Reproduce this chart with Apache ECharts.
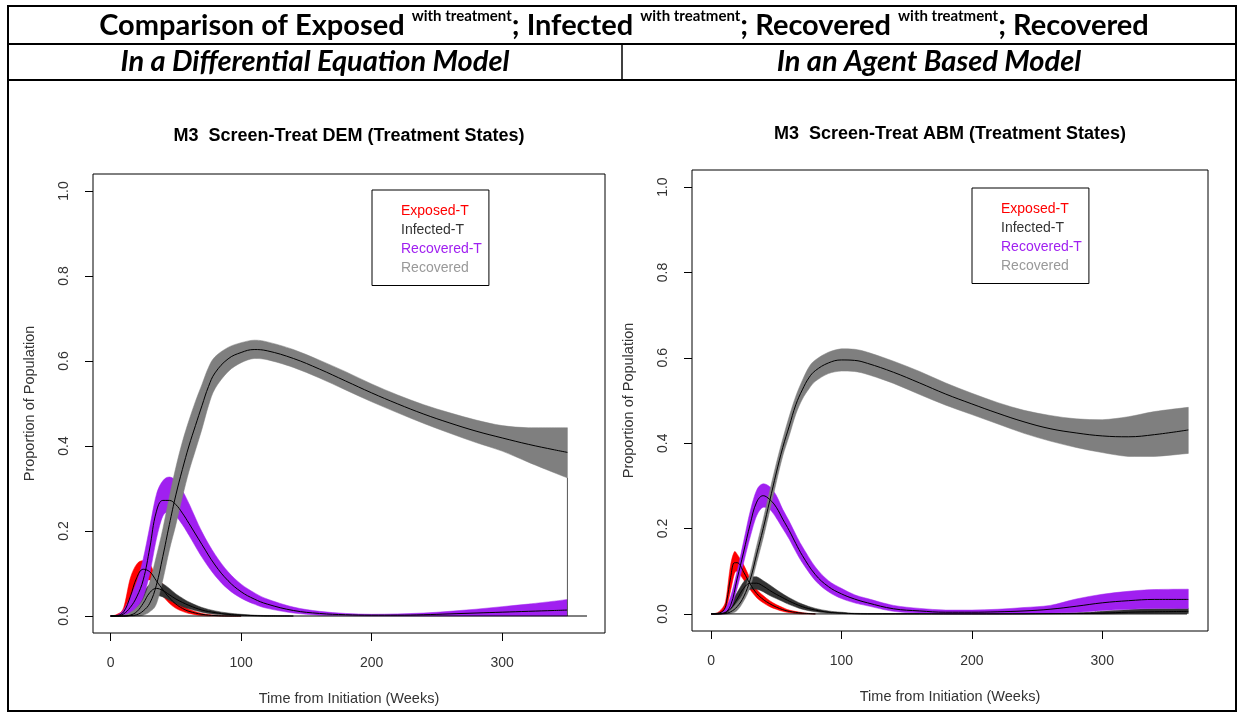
<!DOCTYPE html>
<html>
<head>
<meta charset="utf-8">
<script src="https://cdn.jsdelivr.net/npm/echarts@6/dist/echarts.min.js"></script>
<style>
html,body{margin:0;padding:0;background:#fff;}
#chart{width:1240px;height:713px;}
</style>
</head>
<body>
<div id="chart"></div>
<script>
// ---------- tick labels ----------
const xTicks = [0, 100, 200, 300];
const yTicks = [0, 0.2, 0.4, 0.6, 0.8, 1.0];
const legendNames = ['Exposed-T', 'Infected-T', 'Recovered-T', 'Recovered'];

// ---------- DEM (left) ----------
const demExpT    = [0, 5, 10, 15, 20, 25, 30, 35, 40, 45, 50, 55, 60, 70, 80, 90, 100];
const demExpMean = [0, 0.001, 0.01, 0.045, 0.09, 0.11, 0.104, 0.083, 0.062, 0.043, 0.028, 0.018, 0.011, 0.004, 0.001, 0, 0];
const demExpHi   = [0, 0.004, 0.02, 0.088, 0.122, 0.13, 0.122, 0.093, 0.075, 0.057, 0.04, 0.026, 0.016, 0.006, 0.002, 0, 0];
const demExpLo   = [0, 0, 0.002, 0.015, 0.05, 0.085, 0.085, 0.068, 0.047, 0.03, 0.018, 0.011, 0.006, 0.001, 0, 0, 0];

const demInfT    = [0, 10, 15, 20, 25, 30, 35, 40, 45, 50, 55, 60, 70, 80, 90, 100, 110, 120, 140];
const demInfMean = [0, 0, 0.002, 0.01, 0.03, 0.055, 0.065, 0.06, 0.05, 0.04, 0.032, 0.025, 0.014, 0.008, 0.004, 0.002, 0.001, 0, 0];
const demInfHi   = [0, 0.001, 0.008, 0.025, 0.055, 0.075, 0.082, 0.076, 0.065, 0.052, 0.042, 0.033, 0.02, 0.012, 0.007, 0.004, 0.002, 0.001, 0];
const demInfLo   = [0, 0, 0, 0.002, 0.012, 0.035, 0.048, 0.045, 0.037, 0.029, 0.022, 0.017, 0.009, 0.004, 0.002, 0.001, 0, 0, 0];

const demRecTT    = [0, 5, 10, 15, 20, 25, 30, 35, 40, 45, 50, 55, 60, 70, 80, 90, 100, 110, 120, 140, 160, 180, 200, 220, 240, 260, 280, 300, 320, 340, 350];
const demRecTMean = [0, 0, 0.005, 0.02, 0.045, 0.085, 0.16, 0.245, 0.272, 0.272, 0.262, 0.242, 0.218, 0.168, 0.12, 0.083, 0.057, 0.04, 0.028, 0.013, 0.006, 0.003, 0.002, 0.002, 0.003, 0.005, 0.007, 0.009, 0.011, 0.013, 0.014];
const demRecTHi   = [0, 0.002, 0.015, 0.045, 0.08, 0.135, 0.21, 0.285, 0.318, 0.327, 0.318, 0.295, 0.265, 0.198, 0.145, 0.104, 0.075, 0.055, 0.04, 0.021, 0.011, 0.006, 0.004, 0.005, 0.007, 0.011, 0.016, 0.022, 0.028, 0.035, 0.039];
const demRecTLo   = [0, 0, 0, 0.005, 0.02, 0.045, 0.1, 0.18, 0.235, 0.245, 0.235, 0.215, 0.19, 0.138, 0.095, 0.063, 0.042, 0.028, 0.018, 0.007, 0.002, 0.001, 0, 0, 0, 0, 0, 0, 0, 0, 0];

const demRecT    = [0, 10, 15, 20, 25, 30, 35, 40, 45, 50, 55, 60, 65, 70, 75, 80, 90, 100, 110, 120, 140, 160, 180, 200, 220, 240, 260, 280, 300, 320, 340, 350];
const demRecMean = [0, 0, 0.001, 0.003, 0.012, 0.03, 0.072, 0.14, 0.215, 0.285, 0.345, 0.40, 0.448, 0.495, 0.54, 0.572, 0.605, 0.62, 0.627, 0.624, 0.606, 0.581, 0.553, 0.525, 0.499, 0.475, 0.454, 0.435, 0.419, 0.404, 0.391, 0.385];
const demRecHi   = [0, 0.002, 0.008, 0.02, 0.04, 0.08, 0.14, 0.205, 0.28, 0.35, 0.41, 0.46, 0.505, 0.545, 0.585, 0.61, 0.632, 0.643, 0.649, 0.645, 0.627, 0.602, 0.575, 0.546, 0.52, 0.497, 0.478, 0.461, 0.448, 0.443, 0.443, 0.443];
const demRecLo   = [0, 0, 0, 0, 0.002, 0.01, 0.028, 0.085, 0.155, 0.215, 0.28, 0.34, 0.39, 0.44, 0.495, 0.535, 0.575, 0.596, 0.606, 0.603, 0.585, 0.56, 0.532, 0.504, 0.478, 0.453, 0.43, 0.408, 0.388, 0.362, 0.337, 0.325];

const demEndT = 350;            // last DEM week (polygon edge)
const demBaseRange = [0, 365];  // zero line extent

// ---------- ABM (right) ----------
const abmExpT    = [0, 5, 10, 12, 15, 18, 20, 25, 30, 35, 40, 45, 50, 55, 60, 70, 80];
const abmExpMean = [0, 0.001, 0.01, 0.03, 0.085, 0.12, 0.12, 0.098, 0.07, 0.048, 0.034, 0.024, 0.016, 0.01, 0.006, 0.002, 0];
const abmExpHi   = [0, 0.003, 0.02, 0.045, 0.115, 0.146, 0.14, 0.115, 0.083, 0.058, 0.043, 0.031, 0.022, 0.015, 0.009, 0.003, 0];
const abmExpLo   = [0, 0, 0.003, 0.015, 0.055, 0.095, 0.1, 0.08, 0.057, 0.038, 0.026, 0.017, 0.011, 0.006, 0.003, 0, 0];

const abmInfT    = [0, 10, 15, 20, 25, 30, 35, 40, 45, 50, 55, 60, 70, 80, 90, 100, 120, 200, 280, 300, 320, 340, 366];
const abmInfMean = [0, 0.002, 0.012, 0.035, 0.06, 0.072, 0.072, 0.065, 0.055, 0.046, 0.038, 0.03, 0.017, 0.009, 0.004, 0.002, 0, 0, 0.001, 0.002, 0.004, 0.005, 0.006];
const abmInfHi   = [0, 0.006, 0.025, 0.05, 0.075, 0.087, 0.087, 0.078, 0.068, 0.057, 0.047, 0.038, 0.023, 0.013, 0.007, 0.004, 0.001, 0.001, 0.003, 0.006, 0.01, 0.012, 0.013];
const abmInfLo   = [0, 0, 0.004, 0.022, 0.045, 0.058, 0.058, 0.052, 0.043, 0.036, 0.029, 0.022, 0.011, 0.005, 0.002, 0.001, 0, 0, 0, 0, 0.001, 0.001, 0.001];

const abmRecTT    = [0, 5, 10, 15, 20, 25, 30, 35, 40, 45, 50, 55, 60, 65, 70, 80, 90, 100, 110, 120, 140, 160, 180, 200, 220, 240, 260, 280, 300, 320, 340, 366];
const abmRecTMean = [0, 0, 0.002, 0.02, 0.082, 0.145, 0.21, 0.262, 0.277, 0.268, 0.25, 0.222, 0.195, 0.165, 0.137, 0.092, 0.064, 0.047, 0.035, 0.026, 0.012, 0.007, 0.004, 0.004, 0.005, 0.007, 0.011, 0.018, 0.026, 0.031, 0.034, 0.034];
const abmRecTHi   = [0, 0.001, 0.008, 0.04, 0.1, 0.17, 0.24, 0.29, 0.305, 0.298, 0.278, 0.245, 0.217, 0.186, 0.158, 0.11, 0.078, 0.06, 0.045, 0.036, 0.02, 0.013, 0.009, 0.009, 0.011, 0.015, 0.02, 0.035, 0.046, 0.053, 0.057, 0.058];
const abmRecTLo   = [0, 0, 0, 0.012, 0.06, 0.12, 0.18, 0.23, 0.25, 0.245, 0.225, 0.2, 0.175, 0.146, 0.12, 0.078, 0.052, 0.036, 0.026, 0.019, 0.006, 0.002, 0, 0, 0, 0, 0.002, 0.004, 0.008, 0.011, 0.013, 0.013];

const abmRecT    = [0, 10, 15, 20, 25, 30, 35, 40, 45, 50, 55, 60, 65, 70, 75, 80, 90, 100, 110, 120, 140, 160, 180, 200, 220, 240, 260, 280, 300, 320, 340, 366];
const abmRecMean = [0, 0.001, 0.005, 0.017, 0.04, 0.08, 0.14, 0.2, 0.265, 0.33, 0.39, 0.44, 0.49, 0.525, 0.553, 0.57, 0.588, 0.595, 0.594, 0.587, 0.566, 0.541, 0.515, 0.492, 0.47, 0.45, 0.434, 0.424, 0.417, 0.415, 0.42, 0.431];
const abmRecHi   = [0, 0.003, 0.01, 0.027, 0.05, 0.097, 0.16, 0.222, 0.288, 0.352, 0.41, 0.463, 0.51, 0.547, 0.578, 0.595, 0.613, 0.621, 0.62, 0.613, 0.592, 0.568, 0.541, 0.517, 0.495, 0.477, 0.465, 0.457, 0.455, 0.462, 0.474, 0.484];
const abmRecLo   = [0, 0, 0.001, 0.008, 0.03, 0.063, 0.12, 0.178, 0.242, 0.308, 0.37, 0.418, 0.468, 0.503, 0.527, 0.545, 0.563, 0.569, 0.568, 0.561, 0.54, 0.514, 0.489, 0.467, 0.445, 0.423, 0.405, 0.39, 0.378, 0.369, 0.369, 0.376];

const abmBaseRange = [1, 365];

// ---------- styling ----------
const RFONT = '"Liberation Sans", Arial, sans-serif';
const HFONT = 'Lato, "Open Sans", sans-serif';
const colExp = '#ff0000', colInf = '#333333', colRecT = '#a020f0', colRec = '#7f7f7f';
const SMOOTH = 0.4;

// smooth edge through pixel points (cubic segments, no overshoot in y)
function edgeSegs(p) {
  let d = '';
  for (let i = 0; i < p.length - 1; i++) {
    const p0 = p[i - 1] || p[i], p1 = p[i], p2 = p[i + 1], p3 = p[i + 2] || p[i + 1];
    const c1x = p1[0] + (p2[0] - p0[0]) / 6;
    let c1y = p1[1] + (p2[1] - p0[1]) / 6;
    const c2x = p2[0] - (p3[0] - p1[0]) / 6;
    let c2y = p2[1] - (p3[1] - p1[1]) / 6;
    const lo = Math.min(p1[1], p2[1]), hi = Math.max(p1[1], p2[1]);
    c1y = Math.min(hi, Math.max(lo, c1y));
    c2y = Math.min(hi, Math.max(lo, c2y));
    d += ' C' + c1x + ' ' + c1y + ' ' + c2x + ' ' + c2y + ' ' + p2[0] + ' ' + p2[1];
  }
  return d;
}

// confidence band drawn as one filled shape positioned with the axes' own scales
function band(name, idx, t, lo, hi, color) {
  return {
    type: 'custom', name: name, xAxisIndex: idx, yAxisIndex: idx,
    silent: true, animation: false,
    data: t.map((x, i) => [x, lo[i], hi[i]]),
    encode: { x: 0, y: [1, 2] },
    renderItem: function (params, api) {
      if (params.dataIndex !== 0) return null;
      const up = t.map((x, i) => api.coord([x, hi[i]]));
      const dn = t.map((x, i) => api.coord([x, lo[i]])).reverse();
      const d = 'M' + up[0][0] + ' ' + up[0][1] + edgeSegs(up) +
                ' L' + dn[0][0] + ' ' + dn[0][1] + edgeSegs(dn) + ' Z';
      return { type: 'path', shape: { pathData: d },
               style: { fill: color, stroke: color, lineWidth: 0.5 } };
    }
  };
}
function meanLine(idx, t, m) {
  return {
    type: 'line', xAxisIndex: idx, yAxisIndex: idx, silent: true, animation: false,
    data: t.map((x, i) => [x, m[i]]), showSymbol: false, symbol: 'none',
    smooth: SMOOTH,
    lineStyle: { color: '#000', width: 1 }
  };
}
function plainLine(idx, pts, color) {
  return {
    type: 'line', xAxisIndex: idx, yAxisIndex: idx, silent: true, animation: false,
    data: pts, showSymbol: false, symbol: 'none',
    lineStyle: { color: color, width: 1 }
  };
}
function xAx(idx, min, max) {
  return {
    gridIndex: idx, type: 'value', min: min, max: max,
    axisLine: { show: false, onZero: false },
    splitLine: { show: false },
    axisTick: { show: true, inside: false, length: 8, customValues: xTicks, lineStyle: { color: '#000', width: 1 } },
    axisLabel: { customValues: xTicks, margin: 23, fontFamily: RFONT, fontSize: 14, color: '#333', formatter: v => String(v) },
    name: 'Time from Initiation (Weeks)', nameLocation: 'middle', nameGap: 58,
    nameTextStyle: { fontFamily: RFONT, fontSize: 14.5, color: '#333' }
  };
}
function yAx(idx) {
  return {
    gridIndex: idx, type: 'value', min: -0.04, max: 1.04,
    axisLine: { show: false, onZero: false },
    splitLine: { show: false },
    axisTick: { show: true, inside: false, length: 8, customValues: yTicks, lineStyle: { color: '#000', width: 1 } },
    axisLabel: { customValues: yTicks, rotate: 90, margin: 22, fontFamily: RFONT, fontSize: 14, color: '#333', formatter: v => v.toFixed(1) },
    name: 'Proportion of Population', nameLocation: 'middle', nameGap: 56,
    nameTextStyle: { fontFamily: RFONT, fontSize: 14.5, color: '#333' }
  };
}
function legendAt(left, top) {
  const cols = [colExp, '#333333', '#a020f0', '#999999'];
  return {
    left: left, top: top, orient: 'vertical', icon: 'none',
    itemWidth: 0, itemHeight: 19, itemGap: 2.5,
    padding: [12, 7, 10, 24],
    borderColor: '#000', borderWidth: 1, backgroundColor: 'transparent',
    selectedMode: false,
    textStyle: { fontFamily: RFONT, fontSize: 14 },
    data: legendNames.map((n, i) => ({ name: n, textStyle: { color: cols[i] } }))
  };
}

const chart = echarts.init(document.getElementById('chart'), null, { renderer: 'canvas' });
chart.setOption({
  animation: false,
  backgroundColor: '#fff',
  title: [
    { text: 'M3  Screen-Treat DEM (Treatment States)', left: 349, top: 136, textAlign: 'center', textVerticalAlign: 'middle', padding: 0,
      textStyle: { fontFamily: RFONT, fontSize: 18, fontWeight: 'bold', color: '#000' } },
    { text: 'M3  Screen-Treat ABM (Treatment States)', left: 950, top: 134, textAlign: 'center', textVerticalAlign: 'middle', padding: 0,
      textStyle: { fontFamily: RFONT, fontSize: 18, fontWeight: 'bold', color: '#000' } }
  ],
  grid: [
    { left: 93, top: 174, width: 512, height: 459, show: true, borderColor: '#000', borderWidth: 1, backgroundColor: 'transparent', containLabel: false, outerBoundsMode: 'none' },
    { left: 692, top: 170, width: 516, height: 461, show: true, borderColor: '#000', borderWidth: 1, backgroundColor: 'transparent', containLabel: false, outerBoundsMode: 'none' }
  ],
  xAxis: [xAx(0, -13.5, 378.8), xAx(1, -14.6, 381.1)],
  yAxis: [yAx(0), yAx(1)],
  legend: [legendAt(372, 190), legendAt(972, 188)],
  series: [
    band('Exposed-T', 0, demExpT, demExpLo, demExpHi, colExp),
    meanLine(0, demExpT, demExpMean),
    band('Infected-T', 0, demInfT, demInfLo, demInfHi, colInf),
    meanLine(0, demInfT, demInfMean),
    band('Recovered-T', 0, demRecTT, demRecTLo, demRecTHi, colRecT),
    meanLine(0, demRecTT, demRecTMean),
    band('Recovered', 0, demRecT, demRecLo, demRecHi, colRec),
    meanLine(0, demRecT, demRecMean),
    plainLine(0, [[demEndT, 0], [demEndT, demRecLo[demRecLo.length - 1]]], '#555'),
    plainLine(0, [[demBaseRange[0], 0], [demBaseRange[1], 0]], '#000'),

    band('Exposed-T', 1, abmExpT, abmExpLo, abmExpHi, colExp),
    meanLine(1, abmExpT, abmExpMean),
    band('Infected-T', 1, abmInfT, abmInfLo, abmInfHi, colInf),
    meanLine(1, abmInfT, abmInfMean),
    band('Recovered-T', 1, abmRecTT, abmRecTLo, abmRecTHi, colRecT),
    meanLine(1, abmRecTT, abmRecTMean),
    band('Recovered', 1, abmRecT, abmRecLo, abmRecHi, colRec),
    meanLine(1, abmRecT, abmRecMean),
    plainLine(1, [[abmBaseRange[0], 0], [abmBaseRange[1], 0]], '#000')
  ],
  graphic: [
    { type: 'rect', shape: { x: 8, y: 6, width: 1228, height: 705 }, style: { fill: 'none', stroke: '#000', lineWidth: 2 }, silent: true },
    { type: 'line', shape: { x1: 8, y1: 44, x2: 1236, y2: 44 }, style: { stroke: '#000', lineWidth: 2 }, silent: true },
    { type: 'line', shape: { x1: 8, y1: 80, x2: 1236, y2: 80 }, style: { stroke: '#000', lineWidth: 2 }, silent: true },
    { type: 'line', shape: { x1: 622, y1: 44, x2: 622, y2: 80 }, style: { stroke: '#000', lineWidth: 1.5 }, silent: true },
    { type: 'text', x: 624, y: 26, silent: true,
      style: {
        text: '{m|Comparison of Exposed }{s|with treatment}{m|; Infected }{s|with treatment}{m|; Recovered }{s|with treatment}{m|; Recovered}',
        align: 'center', verticalAlign: 'middle',
        rich: {
          m: { fontFamily: HFONT, fontSize: 29, fontWeight: 'bold', color: '#000', lineHeight: 34 },
          s: { fontFamily: HFONT, fontSize: 15, fontWeight: 'bold', color: '#000', lineHeight: 17, verticalAlign: 'top' }
        }
      } },
    { type: 'text', x: 315, y: 62, silent: true,
      style: { text: 'In a Differential Equation Model', align: 'center', verticalAlign: 'middle',
               fontFamily: HFONT, fontSize: 29, fontWeight: 'bold', fontStyle: 'italic', fill: '#000' } },
    { type: 'text', x: 929, y: 62, silent: true,
      style: { text: 'In an Agent Based Model', align: 'center', verticalAlign: 'middle',
               fontFamily: HFONT, fontSize: 29, fontWeight: 'bold', fontStyle: 'italic', fill: '#000' } }
  ]
});
</script>
</body>
</html>
